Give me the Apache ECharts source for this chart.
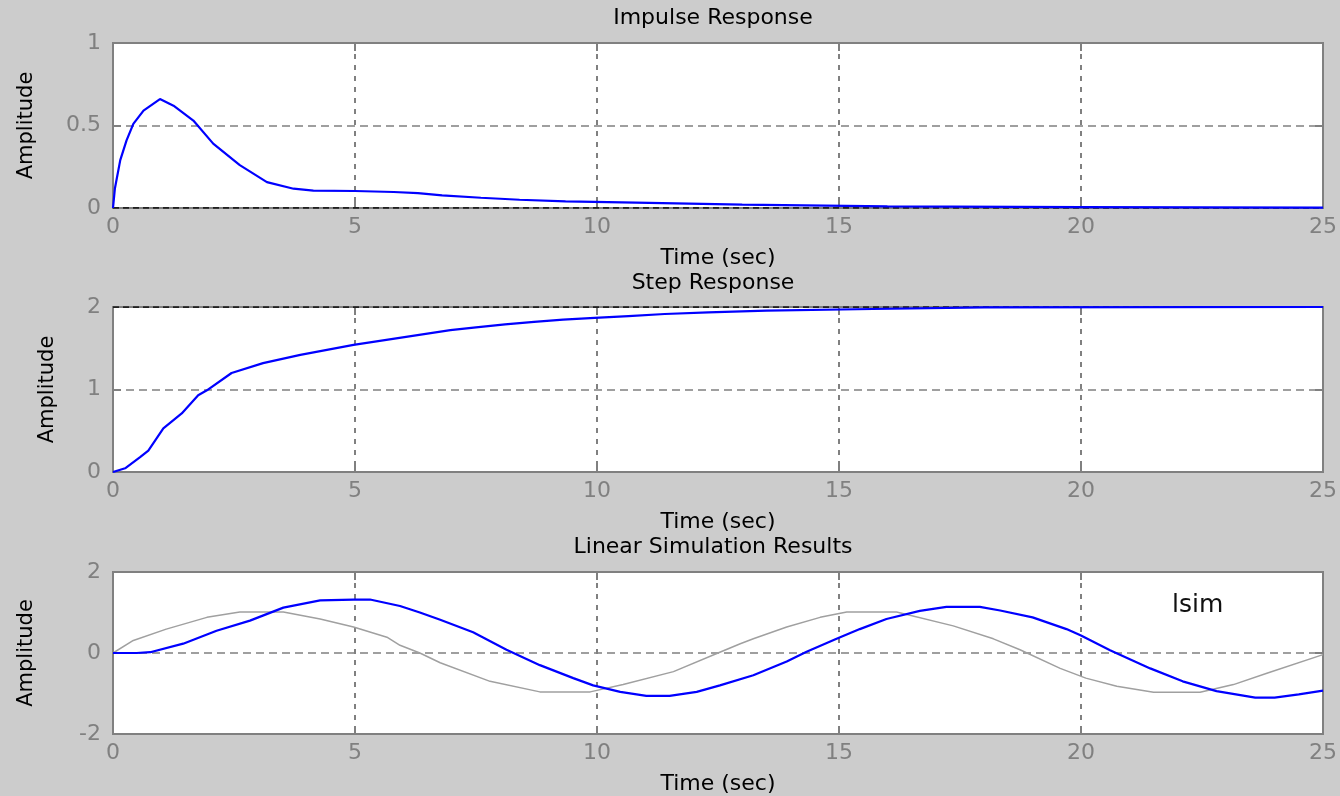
<!DOCTYPE html>
<html>
<head>
<meta charset="utf-8">
<script src="https://cdn.jsdelivr.net/npm/echarts@6/dist/echarts.min.js"></script>
<style>
html,body{margin:0;padding:0;background:#cccccc;}
#chart{width:1340px;height:796px;}
</style>
</head>
<body>
<div id="chart"></div>
<script>
// ---- data ----
const xTicks = [0, 5, 10, 15, 20, 25];
const impulseTicks = [0, 0.5, 1];
const stepTicks = [0, 1, 2];
const lsimTicks = [-2, 0, 2];

const impulseT = [0, 0.04, 0.15, 0.28, 0.42, 0.63, 0.97, 1.25, 1.66, 2.07, 2.62, 3.18, 3.73, 4.14, 5.0, 5.8, 6.3, 6.8, 7.6, 8.4, 9.35, 10.8, 13.0, 16.0, 20.0, 25.0];
const impulseY = [0, 0.12, 0.29, 0.41, 0.51, 0.59, 0.66, 0.62, 0.53, 0.39, 0.26, 0.157, 0.117, 0.105, 0.103, 0.097, 0.09, 0.077, 0.062, 0.05, 0.04, 0.032, 0.021, 0.01, 0.005, 0.002];
const impulseFinal = 0;

const stepT = [0, 0.25, 0.56, 0.73, 1.04, 1.42, 1.76, 1.94, 2.45, 3.1, 3.87, 4.97, 6.97, 7.5, 8.1, 8.7, 9.3, 9.95, 10.65, 11.4, 12.3, 13.5, 15.7, 18.0, 25.0];
const stepY = [0, 0.045, 0.18, 0.26, 0.53, 0.71, 0.93, 0.99, 1.20, 1.32, 1.42, 1.54, 1.72, 1.754, 1.79, 1.82, 1.846, 1.867, 1.89, 1.915, 1.936, 1.955, 1.976, 1.996, 2.0];
const stepFinal = 2;

const inputT = [0, 0.42, 1.1, 1.94, 2.62, 3.52, 4.28, 4.97, 5.66, 5.93, 6.34, 6.76, 7.79, 8.82, 9.86, 10.54, 11.58, 12.5, 12.96, 13.23, 13.92, 14.61, 15.16, 16.19, 17.36, 18.19, 18.74, 19.57, 20.1, 20.74, 21.5, 22.46, 23.15, 23.84, 25.0];
const inputY = [0, 0.31, 0.59, 0.88, 1.01, 1.01, 0.84, 0.64, 0.39, 0.19, 0, -0.24, -0.70, -0.96, -0.96, -0.78, -0.46, 0, 0.23, 0.35, 0.64, 0.88, 1.01, 1.01, 0.67, 0.35, 0.08, -0.38, -0.62, -0.82, -0.97, -0.97, -0.78, -0.5, -0.04];

const outputT = [0, 0.49, 0.77, 1.45, 2.14, 2.83, 3.52, 4.28, 4.97, 5.31, 5.93, 6.34, 6.76, 7.44, 8.13, 8.82, 9.51, 9.92, 10.48, 11.02, 11.5, 12.06, 12.54, 13.23, 13.92, 14.33, 14.95, 15.43, 15.98, 16.67, 17.22, 17.91, 18.33, 19.0, 19.7, 20.0, 20.6, 21.43, 22.1, 22.8, 23.6, 24.0, 24.5, 25.0];
const outputY = [0, 0.0, 0.02, 0.23, 0.55, 0.80, 1.12, 1.30, 1.32, 1.32, 1.16, 1.0, 0.82, 0.51, 0.08, -0.30, -0.62, -0.80, -0.96, -1.06, -1.06, -0.96, -0.80, -0.55, -0.21, 0.03, 0.35, 0.59, 0.84, 1.04, 1.14, 1.14, 1.05, 0.88, 0.59, 0.43, 0.07, -0.38, -0.70, -0.94, -1.10, -1.10, -1.02, -0.93];

const titles = ['Impulse Response', 'Step Response', 'Linear Simulation Results'];
const xName = 'Time (sec)';
const yName = 'Amplitude';
const annotation = 'lsim';

// ---- helpers ----
const zip = (a, b) => a.map((v, i) => [v, b[i]]);
const FONT = 'DejaVu Sans';
const FRAME = '#808080';
const LABEL = '#808080';

const grids = [
  {left: 113, top: 43, width: 1211, height: 165},
  {left: 113, top: 307, width: 1211, height: 165},
  {left: 113, top: 572, width: 1211, height: 165}
];
const yDefs = [
  {ticks: impulseTicks, gap: 76},
  {ticks: stepTicks, gap: 55},
  {ticks: lsimTicks, gap: 76}
];

const xAxes = [], yAxes = [];
grids.forEach((g, i) => {
  xAxes.push({
    type: 'value', gridIndex: i, position: 'bottom',
    min: xTicks[0], max: xTicks[xTicks.length - 1], interval: xTicks[1] - xTicks[0],
    name: xName, nameLocation: 'middle', nameGap: 39,
    nameTextStyle: {color: '#000', fontSize: 22, fontFamily: FONT},
    axisLine: {show: true, onZero: false, lineStyle: {color: FRAME, width: 2}},
    axisTick: {show: true, inside: true, length: 8, lineStyle: {color: FRAME, width: 2}},
    axisLabel: {color: LABEL, fontSize: 22, fontFamily: FONT, margin: 8},
    splitLine: {show: true, lineStyle: {color: FRAME, width: 2, type: [5, 6]}}
  });
  xAxes.push({
    type: 'value', gridIndex: i, position: 'top',
    min: xTicks[0], max: xTicks[xTicks.length - 1], interval: xTicks[1] - xTicks[0],
    axisLine: {show: true, onZero: false, lineStyle: {color: FRAME, width: 2}},
    axisTick: {show: true, inside: true, length: 8, lineStyle: {color: FRAME, width: 2}},
    axisLabel: {show: false}, splitLine: {show: false}
  });
  const yd = yDefs[i];
  const yMin = yd.ticks[0], yMax = yd.ticks[yd.ticks.length - 1];
  yAxes.push({
    type: 'value', gridIndex: i, position: 'left',
    min: yMin, max: yMax, interval: yd.ticks[1] - yd.ticks[0],
    name: yName, nameLocation: 'middle', nameGap: yd.gap, nameRotate: 90,
    nameTextStyle: {color: '#000', fontSize: 21, fontFamily: FONT},
    axisLine: {show: true, onZero: false, lineStyle: {color: FRAME, width: 2}},
    axisTick: {show: true, inside: true, length: 8, lineStyle: {color: FRAME, width: 2}},
    axisLabel: {color: LABEL, fontSize: 22, fontFamily: FONT, margin: 12},
    splitLine: {show: true, lineStyle: {color: FRAME, width: 1.5, type: [8, 5]}}
  });
  yAxes.push({
    type: 'value', gridIndex: i, position: 'right',
    min: yMin, max: yMax, interval: yd.ticks[1] - yd.ticks[0],
    axisLine: {show: true, onZero: false, lineStyle: {color: FRAME, width: 2}},
    axisTick: {show: true, inside: true, length: 8, lineStyle: {color: FRAME, width: 2}},
    axisLabel: {show: false}, splitLine: {show: false}
  });
});

const tStart = xTicks[0], tEnd = xTicks[xTicks.length - 1];
const lineBase = {type: 'line', showSymbol: false, symbol: 'none', silent: true, animation: false};

const series = [
  Object.assign({}, lineBase, {
    name: 'impulseFinal', xAxisIndex: 0, yAxisIndex: 0, z: 3,
    data: [[tStart, impulseFinal], [tEnd, impulseFinal]],
    lineStyle: {color: '#000', width: 1.5, type: [6, 4]}
  }),
  Object.assign({}, lineBase, {
    name: 'impulse', xAxisIndex: 0, yAxisIndex: 0, z: 4,
    data: zip(impulseT, impulseY),
    lineStyle: {color: '#0000ff', width: 2.2}
  }),
  Object.assign({}, lineBase, {
    name: 'stepFinal', xAxisIndex: 2, yAxisIndex: 2, z: 3,
    data: [[tStart, stepFinal], [tEnd, stepFinal]],
    lineStyle: {color: '#000', width: 1.5, type: [6, 4]}
  }),
  Object.assign({}, lineBase, {
    name: 'step', xAxisIndex: 2, yAxisIndex: 2, z: 4,
    data: zip(stepT, stepY),
    lineStyle: {color: '#0000ff', width: 2.2}
  }),
  Object.assign({}, lineBase, {
    name: 'input', xAxisIndex: 4, yAxisIndex: 4, z: 3,
    data: zip(inputT, inputY),
    lineStyle: {color: '#a0a0a0', width: 1.5}
  }),
  Object.assign({}, lineBase, {
    name: 'output', xAxisIndex: 4, yAxisIndex: 4, z: 4,
    data: zip(outputT, outputY),
    lineStyle: {color: '#0000ff', width: 2.2}
  })
];

const titleTops = [7, 272, 536];
const titleOpts = titles.map((t, i) => ({
  text: t, left: 713, top: titleTops[i], textAlign: 'center', padding: 0,
  textStyle: {color: '#000', fontSize: 22, fontWeight: 'normal', fontFamily: FONT}
}));
titleOpts.push({
  text: annotation, left: 1172, top: 593, textAlign: 'left', padding: 0,
  textStyle: {color: '#111', fontSize: 25, fontWeight: 'normal', fontFamily: FONT}
});

const option = {
  backgroundColor: '#cccccc',
  animation: false,
  title: titleOpts,
  grid: grids.map(g => Object.assign({show: true, backgroundColor: '#ffffff', borderColor: FRAME, borderWidth: 2, containLabel: false}, g)),
  xAxis: xAxes,
  yAxis: yAxes,
  series: series
};

const chart = echarts.init(document.getElementById('chart'), null, {renderer: 'canvas'});
chart.setOption(option);
</script>
</body>
</html>
